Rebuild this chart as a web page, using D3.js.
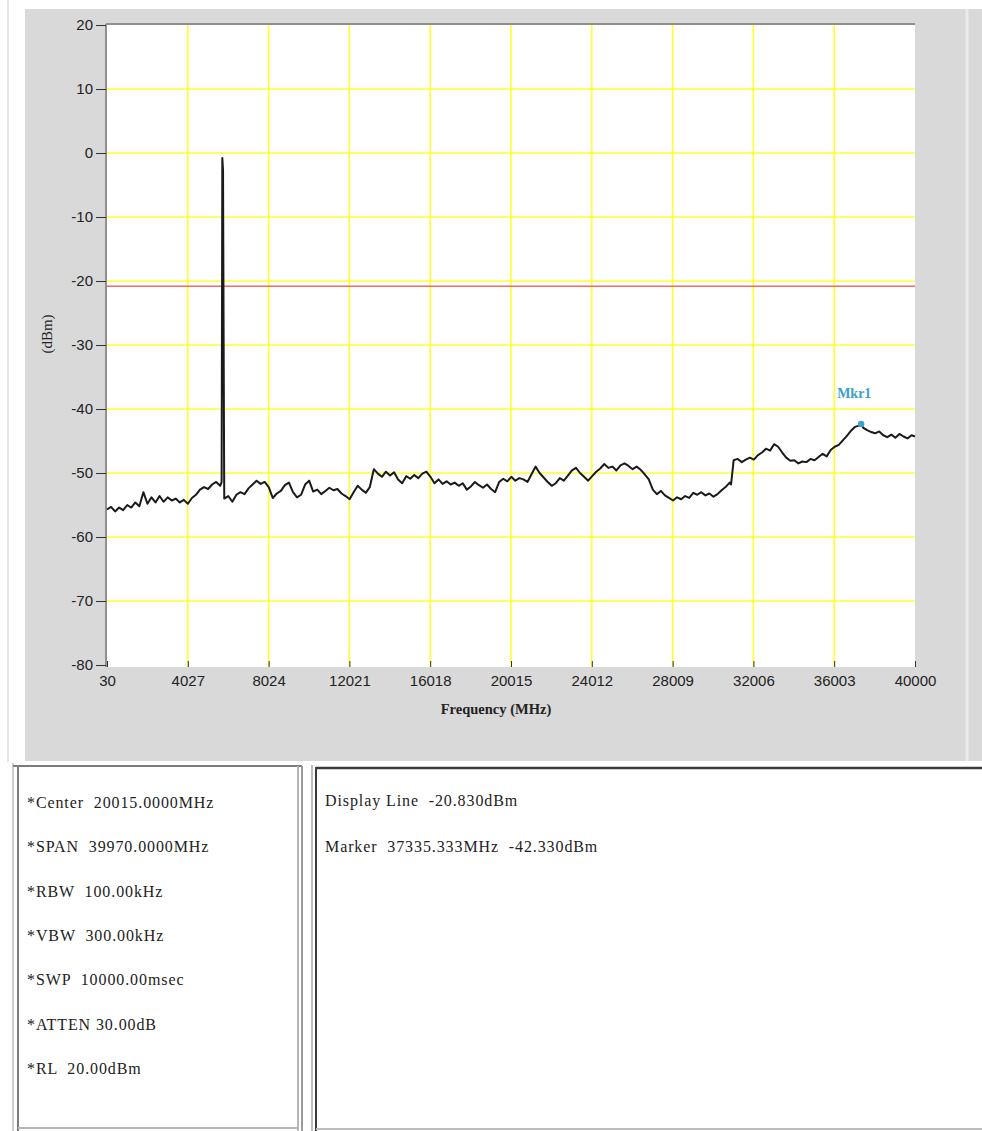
<!DOCTYPE html>
<html>
<head>
<meta charset="utf-8">
<script src="https://cdn.jsdelivr.net/npm/d3@7"></script>
<style>
  html, body { margin: 0; padding: 0; background: #fff; }
  svg { display: block; }
</style>
</head>
<body>
<svg id="chart" width="982" height="1131"></svg>
<script>
// ---------- data ----------
const xTickValues = [30, 4027, 8024, 12021, 16018, 20015, 24012, 28009, 32006, 36003, 40000];
const yTickValues = [20, 10, 0, -10, -20, -30, -40, -50, -60, -70, -80];
const displayLineDbm = -20.83;
const markerMHz = 37335.333;
const markerDbm = -42.33;
const markerName = "Mkr1";

// sweep trace: [frequency MHz, level dBm]
const traceSweep = [
  [30,-55.7],[230,-55.3],[430,-56.0],[630,-55.4],[830,-55.8],[1030,-55.0],[1230,-55.4],[1430,-54.6],[1630,-55.2],[1830,-53.0],
  [2030,-54.8],[2230,-53.8],[2430,-54.6],[2630,-53.6],[2830,-54.5],[3030,-53.8],[3230,-54.3],[3430,-54.0],[3630,-54.6],[3830,-54.2],
  [4030,-54.8],[4230,-53.9],[4430,-53.4],[4630,-52.6],[4830,-52.2],[5030,-52.5],[5230,-51.8],[5430,-51.4],[5630,-52.0],
  [5700,-51.4],[5735,-0.8],[5770,-2.8],[5800,-29.6],
  [5830,-54.0],[6030,-53.6],[6230,-54.5],[6430,-53.4],[6630,-53.0],[6830,-53.3],[7030,-52.4],[7230,-51.8],[7430,-51.2],[7630,-51.7],[7830,-51.4],
  [8030,-52.2],[8230,-53.9],[8430,-53.2],[8630,-52.8],[8830,-51.9],[9030,-51.5],[9230,-53.0],[9430,-53.8],[9630,-53.4],[9830,-51.8],
  [10030,-51.2],[10230,-52.9],[10430,-52.6],[10630,-53.3],[10830,-52.8],[11030,-52.3],[11230,-52.7],[11430,-52.5],[11630,-53.2],[11830,-53.6],
  [12030,-54.1],[12230,-53.0],[12430,-52.0],[12630,-52.6],[12830,-53.1],[13030,-52.2],[13230,-49.4],[13430,-50.1],[13630,-50.6],[13830,-49.8],
  [14030,-50.4],[14230,-49.9],[14430,-51.0],[14630,-51.6],[14830,-50.5],[15030,-50.9],[15230,-50.3],[15430,-50.8],[15630,-50.1],[15830,-49.8],
  [16030,-50.6],[16230,-51.6],[16430,-51.0],[16630,-51.7],[16830,-51.3],[17030,-51.8],[17230,-51.5],[17430,-52.0],[17630,-51.6],[17830,-52.6],
  [18030,-52.1],[18230,-51.4],[18430,-51.9],[18630,-52.3],[18830,-51.8],[19030,-52.5],[19230,-53.0],[19430,-51.4],[19630,-50.9],[19830,-51.3],
  [20030,-50.6],[20230,-51.2],[20430,-50.8],[20630,-51.0],[20830,-51.4],[21030,-50.2],[21230,-49.0],[21430,-50.0],[21630,-50.7],[21830,-51.4],
  [22030,-52.0],[22230,-51.6],[22430,-50.8],[22630,-51.2],[22830,-50.4],[23030,-49.6],[23230,-49.2],[23430,-50.0],[23630,-50.6],[23830,-51.2],
  [24030,-50.5],[24230,-49.8],[24430,-49.3],[24630,-48.6],[24830,-49.2],[25030,-49.0],[25230,-49.6],[25430,-48.8],[25630,-48.5],[25830,-48.9],
  [26030,-49.4],[26230,-49.0],[26430,-49.5],[26630,-50.2],[26830,-51.0],[27030,-52.6],[27230,-53.3],[27430,-52.8],[27630,-53.5],[27830,-53.9],
  [28030,-54.3],[28230,-53.8],[28430,-54.1],[28630,-53.6],[28830,-53.9],[29030,-53.1],[29230,-53.4],[29430,-53.0],[29630,-53.5],[29830,-53.2],
  [30030,-53.7],[30230,-53.3],[30430,-52.7],[30630,-52.2],[30830,-51.5],[30900,-51.8],
  [31030,-48.0],[31230,-47.8],[31430,-48.3],[31630,-47.9],[31830,-47.6],[32030,-47.9],[32230,-47.2],[32430,-46.8],[32630,-46.2],[32830,-46.5],
  [33030,-45.5],[33230,-45.9],[33430,-46.8],[33630,-47.6],[33830,-48.1],[34030,-48.0],[34230,-48.5],[34430,-48.2],[34630,-48.3],[34830,-47.8],
  [35030,-48.0],[35230,-47.5],[35430,-47.0],[35630,-47.4],[35830,-46.4],[36030,-45.9],[36230,-45.6],[36430,-44.9],[36630,-44.2],[36830,-43.4],
  [37030,-42.8],[37230,-42.6],[37335.333,-42.33],
  [37430,-42.9],[37630,-43.3],[37830,-43.6],[38030,-43.8],[38230,-43.5],[38430,-44.1],[38630,-44.4],[38830,-44.0],[39030,-44.5],[39230,-43.9],
  [39430,-44.3],[39630,-44.6],[39830,-44.1],[40000,-44.3]
];

const settingsLines = [
  "*Center  20015.0000MHz",
  "*SPAN  39970.0000MHz",
  "*RBW  100.00kHz",
  "*VBW  300.00kHz",
  "*SWP  10000.00msec",
  "*ATTEN 30.00dB",
  "*RL  20.00dBm"
];
const readoutLines = [
  "Display Line  -20.830dBm",
  "Marker  37335.333MHz  -42.330dBm"
];

// ---------- drawing ----------
const svg = d3.select("#chart");
const P = { left: 107, right: 915, top: 25, bottom: 665 };

const x = d3.scaleLinear().domain([30, 40000]).range([P.left, P.right]);
const y = d3.scaleLinear().domain([-80, 20]).range([P.bottom, P.top]);

const sans = "'Liberation Sans', Arial, sans-serif";
const serif = "'Liberation Serif', 'Times New Roman', serif";

// frame background
svg.append("line").attr("x1", 8).attr("x2", 8).attr("y1", 0).attr("y2", 762)
  .attr("stroke", "#e6e6e6").attr("stroke-width", 2);
svg.append("rect").attr("x", 25).attr("y", 9).attr("width", 957).attr("height", 752).attr("fill", "#d9d9d9");
svg.append("line").attr("x1", 967).attr("x2", 967).attr("y1", 9).attr("y2", 761)
  .attr("stroke", "#ebebeb").attr("stroke-width", 3);

// plot area
svg.append("rect").attr("x", P.left).attr("y", P.top).attr("width", P.right - P.left).attr("height", P.bottom + 2 - P.top).attr("fill", "#fff");
svg.append("line").attr("x1", P.left - 1).attr("x2", P.right).attr("y1", P.top - 1).attr("y2", P.top - 1)
  .attr("stroke", "#8f8f8f").attr("stroke-width", 2);
svg.append("line").attr("x1", P.left - 1).attr("x2", P.left - 1).attr("y1", P.top - 1).attr("y2", P.bottom + 2)
  .attr("stroke", "#8f8f8f").attr("stroke-width", 2);

// grid
const grid = svg.append("g");
grid.selectAll(".vg").data(xTickValues.slice(1, -1)).join("line")
  .attr("x1", d => x(d)).attr("x2", d => x(d)).attr("y1", P.top).attr("y2", P.bottom + 2)
  .attr("stroke", "#ffff30").attr("stroke-width", 1.6);
grid.selectAll(".hg").data(yTickValues.slice(1, -1)).join("line")
  .attr("x1", P.left).attr("x2", P.right).attr("y1", d => y(d)).attr("y2", d => y(d))
  .attr("stroke", "#ffff30").attr("stroke-width", 1.6);

// display line
svg.append("line").attr("x1", P.left).attr("x2", P.right)
  .attr("y1", y(displayLineDbm)).attr("y2", y(displayLineDbm))
  .attr("stroke", "#f06a6a").attr("stroke-width", 1.6);

// axes
const plainFmt = d => String(d);
const yAxis = svg.append("g").attr("transform", `translate(${P.left - 1},0)`)
  .call(d3.axisLeft(y).tickValues(yTickValues).tickSize(10).tickPadding(3).tickFormat(plainFmt));
yAxis.select(".domain").remove();
yAxis.selectAll("line").attr("stroke", "#333");
yAxis.selectAll("text").attr("font-family", sans).attr("font-size", 15).attr("fill", "#222");

const xAxis = svg.append("g").attr("transform", `translate(0,${P.bottom + 2})`)
  .call(d3.axisBottom(x).tickValues(xTickValues).tickSize(-6).tickPadding(8).tickFormat(plainFmt));
xAxis.select(".domain").remove();
xAxis.selectAll("line").attr("stroke", "#333");
xAxis.selectAll("text").attr("font-family", sans).attr("font-size", 15).attr("fill", "#222");

// axis titles
svg.append("text").attr("x", 496).attr("y", 714).attr("text-anchor", "middle")
  .attr("font-family", serif).attr("font-size", 14.5).attr("font-weight", "bold").attr("fill", "#222")
  .text("Frequency (MHz)");
svg.append("text").attr("transform", "translate(52,334) rotate(-90)").attr("text-anchor", "middle")
  .attr("font-family", serif).attr("font-size", 15).attr("fill", "#222")
  .text("(dBm)");

// trace
const line = d3.line().x(d => x(d[0])).y(d => y(d[1]));
svg.append("path").datum(traceSweep).attr("d", line)
  .attr("fill", "none").attr("stroke", "#1a1a1a").attr("stroke-width", 2).attr("stroke-linejoin", "round");

// marker
svg.append("circle").attr("cx", x(markerMHz)).attr("cy", y(markerDbm)).attr("r", 3.2).attr("fill", "#3ba3d0");
svg.append("text").attr("x", x(markerMHz) - 24).attr("y", y(markerDbm) - 26)
  .attr("font-family", serif).attr("font-size", 14).attr("font-weight", "bold").attr("fill", "#3aa0cc")
  .text(markerName);

// bottom panels
const bp = svg.append("g");
// left panel
bp.append("rect").attr("x", 12).attr("y", 763).attr("width", 291).attr("height", 368).attr("fill", "#fff");
bp.append("line").attr("x1", 13).attr("x2", 13).attr("y1", 763).attr("y2", 1131).attr("stroke", "#cfcfcf").attr("stroke-width", 2);
bp.append("line").attr("x1", 18).attr("x2", 18).attr("y1", 765).attr("y2", 1131).attr("stroke", "#7d7d7d").attr("stroke-width", 2);
bp.append("line").attr("x1", 13).attr("x2", 302).attr("y1", 766).attr("y2", 766).attr("stroke", "#7d7d7d").attr("stroke-width", 2);
bp.append("line").attr("x1", 298).attr("x2", 298).attr("y1", 766).attr("y2", 1131).attr("stroke", "#b5b5b5").attr("stroke-width", 2);
bp.append("line").attr("x1", 302).attr("x2", 302).attr("y1", 766).attr("y2", 1131).attr("stroke", "#9a9a9a").attr("stroke-width", 2);
bp.append("line").attr("x1", 18).attr("x2", 298).attr("y1", 1128).attr("y2", 1128).attr("stroke", "#b5b5b5").attr("stroke-width", 2);
// right panel
bp.append("line").attr("x1", 312).attr("x2", 312).attr("y1", 765).attr("y2", 1131).attr("stroke", "#bdbdbd").attr("stroke-width", 2);
bp.append("line").attr("x1", 316).attr("x2", 316).attr("y1", 767).attr("y2", 1131).attr("stroke", "#3a3a3a").attr("stroke-width", 2);
bp.append("line").attr("x1", 316).attr("x2", 982).attr("y1", 768).attr("y2", 768).attr("stroke", "#3a3a3a").attr("stroke-width", 2.5);
bp.append("line").attr("x1", 316).attr("x2", 982).attr("y1", 1129).attr("y2", 1129).attr("stroke", "#bdbdbd").attr("stroke-width", 2);

bp.selectAll(".set").data(settingsLines).join("text")
  .attr("x", 27).attr("y", (d, i) => 808 + i * 44.3)
  .attr("font-family", serif).attr("font-size", 16).attr("fill", "#222")
  .attr("letter-spacing", 0.9)
  .style("white-space", "pre")
  .text(d => d);
bp.selectAll(".ro").data(readoutLines).join("text")
  .attr("x", 325).attr("y", (d, i) => 806 + i * 46)
  .attr("font-family", serif).attr("font-size", 16).attr("fill", "#222")
  .attr("letter-spacing", 0.9)
  .style("white-space", "pre")
  .text(d => d);
</script>
</body>
</html>
